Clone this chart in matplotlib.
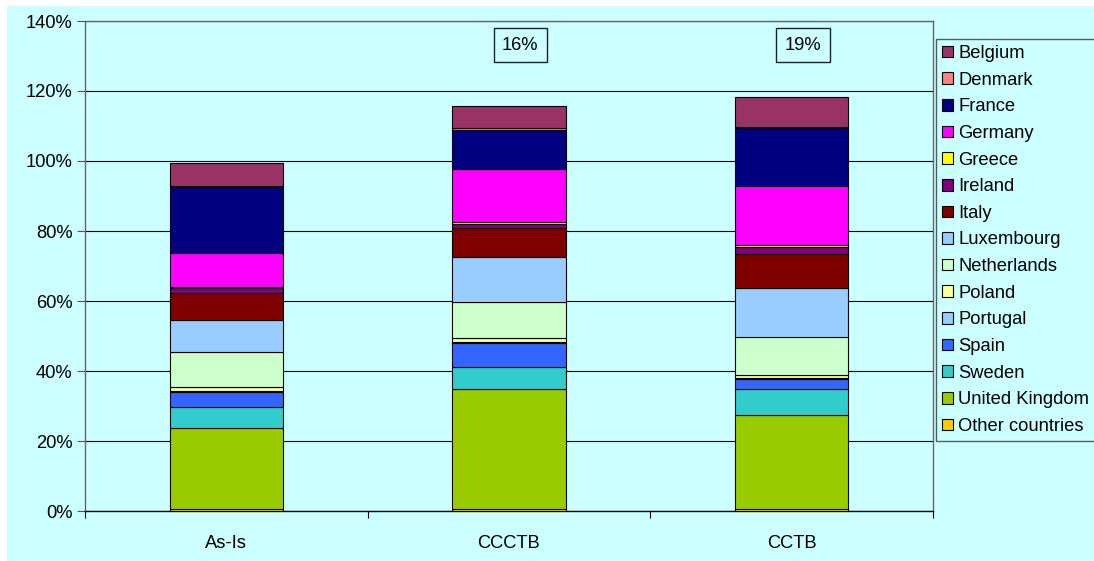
import matplotlib
matplotlib.use("Agg")
import matplotlib.pyplot as plt
from matplotlib.patches import Rectangle, Patch
from matplotlib.ticker import FuncFormatter, MultipleLocator
import numpy as np

plt.rcParams["font.family"] = ["Liberation Sans", "DejaVu Sans"]

scenarios = ["As-Is", "CCCTB", "CCTB"]
countries = ["Belgium", "Denmark", "France", "Germany", "Greece", "Ireland",
             "Italy", "Luxembourg", "Netherlands", "Poland", "Portugal",
             "Spain", "Sweden", "United Kingdom", "Other countries"]
colors = ["#993366", "#FF8080", "#000080", "#FF00FF", "#FFFF00", "#800080",
          "#800000", "#99CCFF", "#CCFFCC", "#FFFF99", "#99CCFF",
          "#3366FF", "#33CCCC", "#99CC00", "#FFCC00"]

# shares in percent, same order as `countries`
as_is = [6.4, 0.3, 19.0, 9.6, 0.4, 1.4, 7.6, 9.1, 10.2, 0.9, 0.3, 4.5, 5.8, 23.3, 0.5]
ccctb = [6.3, 0.4, 11.3, 15.2, 0.5, 1.1, 8.2, 12.9, 10.5, 0.9, 0.5, 6.7, 6.3, 34.3, 0.6]
cctb = [8.6, 0.4, 16.5, 16.9, 0.5, 2.1, 9.7, 13.9, 10.9, 0.8, 0.4, 2.8, 7.5, 26.9, 0.5]

values = np.array([as_is, ccctb, cctb]) / 100.0

FS = 13.2

fig = plt.figure(figsize=(10.94, 5.61), dpi=100, facecolor="white")
bg = "#CCFFFF"
fig.patches.append(Rectangle((7 / 1094, 0), 1, (561 - 6) / 561,
                             transform=fig.transFigure, facecolor=bg,
                             edgecolor="none", zorder=-10))

ax = fig.add_axes([85 / 1094, 50 / 561, (933 - 85) / 1094, (511 - 21) / 561])
ax.set_facecolor(bg)

x = np.arange(len(scenarios))
# stack from the bottom: last country first
bottom = np.zeros(len(scenarios))
for idx in range(len(countries) - 1, -1, -1):
    ax.bar(x, values[:, idx], bottom=bottom, width=0.4, color=colors[idx],
           edgecolor="black", linewidth=0.8, zorder=3)
    bottom += values[:, idx]
totals = bottom

handles = [Patch(facecolor=colors[i], edgecolor="black", linewidth=0.8,
                 label=countries[i]) for i in range(len(countries))]

# increase over the As-Is total
for i in range(1, len(scenarios)):
    diff = (totals[i] - totals[0]) * 100
    ax.text(x[i] + 0.04, 1.331, f"{diff:.0f}%", ha="center", va="center",
            fontsize=FS, zorder=5,
            bbox=dict(boxstyle="square,pad=0.45", facecolor=bg,
                      edgecolor="#222222", linewidth=1.0))

ax.set_xlim(-0.5, len(scenarios) - 0.5)
ax.set_ylim(0, 1.4)
ax.yaxis.set_major_locator(MultipleLocator(0.2))
ax.yaxis.set_major_formatter(FuncFormatter(lambda v, p: f"{v * 100:.0f}%"))
ax.grid(axis="y", color="black", linewidth=0.8, zorder=1)
ax.set_axisbelow(True)

ax.set_xticks(x)
ax.set_xticklabels(scenarios)
ax.set_xticks(np.arange(-0.5, len(scenarios), 1.0), minor=True)
ax.tick_params(axis="x", which="major", length=0, pad=17, labelsize=FS)
ax.tick_params(axis="x", which="minor", length=5, width=0.8, color="black")
ax.tick_params(axis="y", length=6, width=0.8, color="#555555", labelsize=FS, pad=3)

for side in ["top", "right", "left"]:
    ax.spines[side].set_color("#666666")
    ax.spines[side].set_linewidth(1.0)
ax.spines["bottom"].set_color("black")
ax.spines["bottom"].set_linewidth(1.0)

leg = fig.legend(handles=handles, loc="upper left",
                 bbox_to_anchor=(936 / 1094, 1 - 39 / 561),
                 fontsize=FS, frameon=True, fancybox=False,
                 handlelength=0.6, handleheight=0.6, handletextpad=0.27,
                 labelspacing=0.525, borderpad=0.33, borderaxespad=0)
leg.get_frame().set_facecolor(bg)
leg.get_frame().set_edgecolor("#333333")
leg.get_frame().set_linewidth(1.0)

fig.savefig("out.png", dpi=100, facecolor=fig.get_facecolor())
